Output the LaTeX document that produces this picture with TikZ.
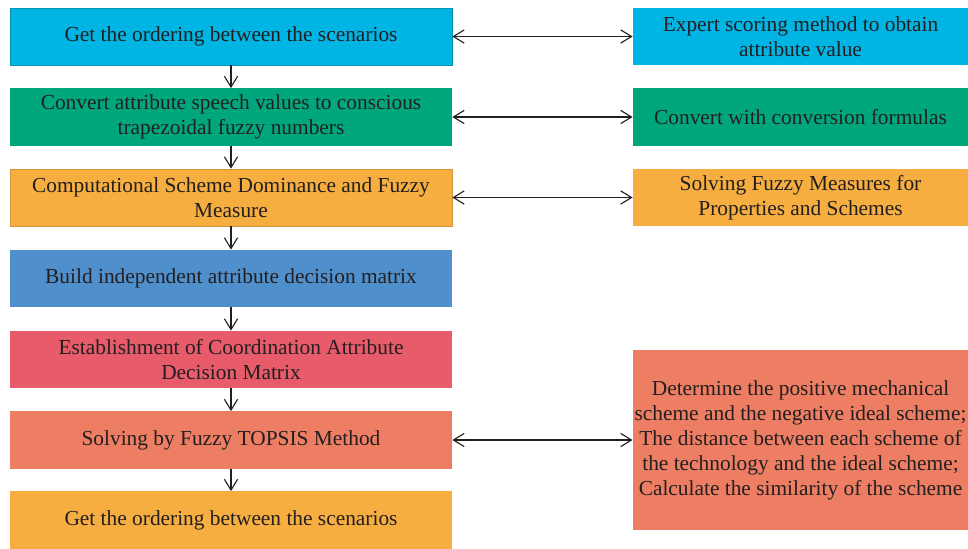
\documentclass[tikz,border=0pt]{standalone}
\usepackage{fontspec}
\setmainfont{Liberation Serif}
\usetikzlibrary{arrows.meta}

\definecolor{skyblue}{RGB}{0,180,228}
\definecolor{seagreen}{RGB}{0,167,124}
\definecolor{sandorange}{RGB}{246,174,64}
\definecolor{steelblue}{RGB}{79,143,203}
\definecolor{rosered}{RGB}{232,91,106}
\definecolor{salmon}{RGB}{238,126,99}
\definecolor{inkgray}{RGB}{35,31,32}

\tikzset{
	box/.style={rectangle, minimum width=11.05cm, minimum height=1.43cm,
		align=center, text=inkgray, inner sep=0pt,
		font=\fontsize{15.2}{17.8}\selectfont},
	sidebox/.style={box, minimum width=8.38cm},
	link/.style={-{Straight Barb[length=2.7mm,width=3.3mm]}, line width=0.8pt, inkgray},
	twolink/.style={{Straight Barb[length=2.7mm,width=3.3mm]}-{Straight Barb[length=2.7mm,width=3.3mm]}, line width=0.8pt, inkgray}
}

\begin{document}
\begin{tikzpicture}[x=0.025cm, y=-0.025cm]
		
		\useasboundingbox (0,0) rectangle (968,548);
		
		% main column
		\node[box, fill=skyblue, draw=skyblue!80!black, line width=0.4pt] (rank) at (231,36.5) {Get the ordering between the scenarios};
		\node[box, fill=seagreen] (convert) at (231,117) {Convert attribute speech values to conscious\\trapezoidal fuzzy numbers};
		\node[box, fill=sandorange, draw=sandorange!85!black, line width=0.4pt] (dominance) at (231,197.5) {Computational Scheme Dominance and Fuzzy\\Measure};
		\node[box, fill=steelblue] (indep) at (231,278.5) {Build independent attribute decision matrix};
		\node[box, fill=rosered] (coord) at (231,359.5) {Establishment of Coordination Attribute\\Decision Matrix};
		\node[box, fill=salmon] (topsis) at (231,440) {Solving by Fuzzy TOPSIS Method};
		\node[box, fill=sandorange] (order) at (231,520) {Get the ordering between the scenarios};
		
		% side column
		\node[sidebox, fill=skyblue] (expert) at (800.5,36.5) {Expert scoring method to obtain\\attribute value};
		\node[sidebox, fill=seagreen] (formula) at (800.5,117) {Convert with conversion formulas};
		\node[sidebox, fill=sandorange] (measure) at (800.5,197.5) {Solving Fuzzy Measures for\\Properties and Schemes};
		\node[sidebox, fill=salmon, minimum height=4.5cm] (ideal) at (800.5,440) {Determine the positive mechanical\\scheme and the negative ideal scheme;\\The distance between each scheme of\\the technology and the ideal scheme;\\Calculate the similarity of the scheme};
		
		% flow
		\foreach \a/\b in {rank/convert, convert/dominance, dominance/indep, indep/coord, coord/topsis, topsis/order}
		\draw[link] (\a) -- (\b);
		
		\foreach \a/\b in {rank/expert, convert/formula, dominance/measure, topsis/ideal}
		\draw[twolink] (\a) -- (\b);
		
	\end{tikzpicture}
\end{document}
